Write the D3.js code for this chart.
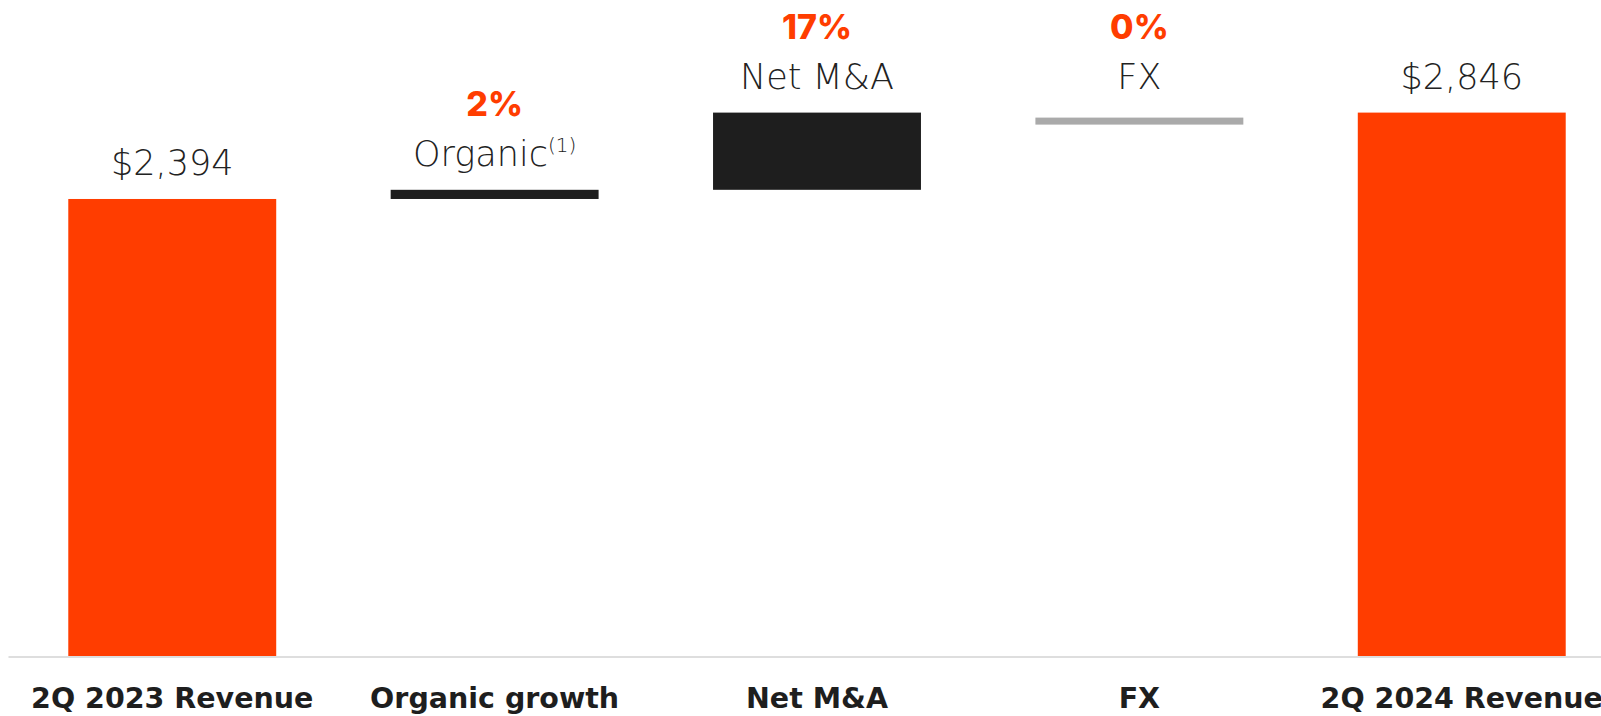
<!DOCTYPE html>
<html>
<head>
<meta charset="utf-8">
<script src="https://cdn.jsdelivr.net/npm/d3@7"></script>
<style>
  body { margin: 0; background: #fff; }
  svg { display: block; font-family: "DejaVu Sans", sans-serif; }
</style>
</head>
<body>
<svg id="chart" width="1601" height="716"></svg>
<script>
// waterfall data (USD millions)
const categories = ["2Q 2023 Revenue", "Organic growth", "Net M&A", "FX", "2Q 2024 Revenue"];
const kinds = ["total", "delta", "delta", "delta", "total"];
const values = [2394, 48, 404, 0, 2846];
const topLabels = ["$2,394", "Organic", "Net M&A", "FX", "$2,846"];
const pctLabels = [null, "2%", "17%", "0%", null];
const footnotes = [null, "(1)", null, null, null];

const orange = "#ff3d00";

const svg = d3.select("#chart");
const margin = {top: 20, bottom: 59.5, left: 8};
const width = +svg.attr("width");
const height = +svg.attr("height");

// running totals for the floating bars
let running = 0;
const bars = categories.map((c, i) => {
  let y0, y1;
  if (kinds[i] === "total") { y0 = 0; y1 = values[i]; running = values[i]; }
  else { y0 = running; y1 = running + values[i]; running = y1; }
  return {cat: c, kind: kinds[i], value: values[i], y0, y1, i};
});

const x = d3.scaleBand()
  .domain(categories)
  .range([margin.left, 1626])
  .paddingInner(0.355)
  .paddingOuter(0.187);

const y = d3.scaleLinear()
  .domain([0, 2846])
  .range([height - margin.bottom, 112.6]);

function fill(d) {
  if (d.kind === "total") return orange;
  if (d.value === 0) return "#aaaaaa";
  return "#1e1e1e";
}

// bars (a zero change is drawn as a thin grey marker)
svg.append("g")
  .selectAll("rect")
  .data(bars)
  .join("rect")
    .attr("x", d => x(d.cat))
    .attr("width", x.bandwidth())
    .attr("y", d => d.value === 0 ? y(d.y1) + 5 : y(Math.max(d.y0, d.y1)))
    .attr("height", d => d.value === 0 ? 7 : Math.abs(y(d.y0) - y(d.y1)))
    .attr("fill", fill);

// x axis
const xAxis = g => g
  .attr("transform", `translate(0,${height - margin.bottom})`)
  .call(d3.axisBottom(x).tickSize(0))
  .call(g => g.select(".domain").attr("stroke", "#dedede").attr("stroke-width", 2))
  .call(g => g.selectAll(".tick text")
    .attr("y", 51)
    .attr("dy", 0)
    .attr("fill", "#1e1e1e")
    .attr("font-family", "'DejaVu Sans', sans-serif")
    .attr("font-weight", 700)
    .attr("font-size", 28.5));

svg.append("g").call(xAxis);

// labels above bars
const labels = svg.append("g").attr("text-anchor", "middle");

bars.forEach(d => {
  const top = y(Math.max(d.y0, d.y1));
  const cx = x(d.cat) + x.bandwidth() / 2;
  const base = top - 24;
  const t = labels.append("text")
    .attr("x", cx)
    .attr("y", base)
    .attr("fill", "#222")
    .attr("font-weight", 200)
    .attr("font-size", 35)
    .text(topLabels[d.i]);
  if (footnotes[d.i]) {
    t.append("tspan")
      .attr("font-size", 20)
      .attr("dy", -14)
      .text(footnotes[d.i]);
  }
  if (pctLabels[d.i]) {
    labels.append("text")
      .attr("x", cx)
      .attr("y", base - 50)
      .attr("fill", orange)
      .attr("font-family", "Inter, sans-serif")
      .attr("font-weight", 800)
      .attr("font-size", 34)
      .text(pctLabels[d.i]);
  }
});
</script>
</body>
</html>
